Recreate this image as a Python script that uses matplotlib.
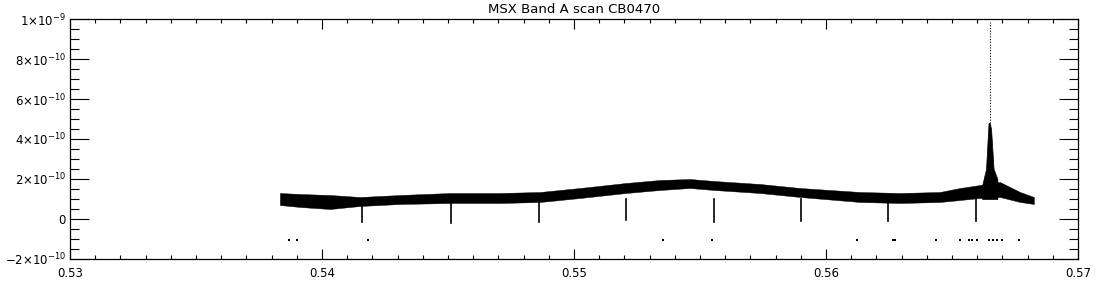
import numpy as np
import matplotlib
matplotlib.use('Agg')
import matplotlib.pyplot as plt
from matplotlib.ticker import MultipleLocator, FixedLocator

plt.rcParams['mathtext.fontset'] = 'dejavusans'

# envelope of the noisy scan (wavelength, upper, lower)
wave = [0.53833, 0.53913, 0.54032, 0.54151, 0.54310, 0.54508, 0.54706, 0.54865,
        0.55024, 0.55206, 0.55341, 0.55460, 0.55556, 0.55738, 0.55897, 0.56135,
        0.56294, 0.56452, 0.56532, 0.56611, 0.56690, 0.56770, 0.56825]
upper = [1.30, 1.25, 1.20, 1.10, 1.20, 1.30, 1.30, 1.35, 1.55, 1.80, 1.95, 2.00,
         1.90, 1.75, 1.55, 1.35, 1.30, 1.35, 1.55, 1.70, 1.85, 1.35, 1.10]
lower = [0.70, 0.60, 0.50, 0.65, 0.75, 0.80, 0.80, 0.85, 1.05, 1.30, 1.45, 1.55,
         1.45, 1.30, 1.10, 0.85, 0.80, 0.85, 0.95, 1.05, 1.10, 0.85, 0.75]

# narrow dips (position, bottom value)
dip_x = [0.54159, 0.54512, 0.54861, 0.55206, 0.55556, 0.55901, 0.56246, 0.56595]
dip_bottom = [-0.15, -0.20, -0.15, -0.05, -0.15, -0.10, -0.10, -0.12]

# emission spike
spike_x = [0.56620, 0.56635, 0.56645, 0.56650, 0.56655, 0.56665, 0.56680]
spike_y = [1.70, 2.50, 4.80, 4.80, 4.50, 2.50, 2.00]
peak_x = 0.56650
peak_top = 9.85

# scattered low points
dot_x = [0.53869, 0.53901, 0.54183, 0.55353, 0.55548, 0.56123, 0.56266, 0.56274,
         0.56437, 0.56532, 0.56567, 0.56579, 0.56599, 0.56647, 0.56663, 0.56679,
         0.56698, 0.56766]
dot_y = -1.05

x_ticks = [0.53, 0.54, 0.55, 0.56, 0.57]
x_labels = ['0.53', '0.54', '0.55', '0.56', '0.57']
y_ticks = [-2e-10, 0, 2e-10, 4e-10, 6e-10, 8e-10, 1e-9]
y_labels = [r'$-2{\times}10^{-10}$', '0', r'$2{\times}10^{-10}$', r'$4{\times}10^{-10}$',
            r'$6{\times}10^{-10}$', r'$8{\times}10^{-10}$', r'$1{\times}10^{-9}$']

scale = 1e-10

fig = plt.figure(figsize=(11, 3), dpi=100)
ax = fig.add_axes([70 / 1100, 41 / 300, 1008 / 1100, 240 / 300])

ax.fill_between(wave, np.array(lower) * scale, np.array(upper) * scale,
                color='black', lw=0.3)
for x, b in zip(dip_x, dip_bottom):
    ax.plot([x, x], [1.0 * scale, b * scale], color='black', lw=1.2)
ax.fill_between(spike_x, np.array(spike_y) * scale, 1.0 * scale, color='black', lw=0.5)
ax.plot([peak_x, peak_x], [4.8 * scale, peak_top * scale], color='black',
        lw=0.8, ls=(0, (1, 1.5)))
ax.scatter(dot_x, [dot_y * scale] * len(dot_x), s=0.6, color='black', marker='s', lw=0)

ax.set_xlim(0.53, 0.57)
ax.set_ylim(-2e-10, 1e-9)
ax.set_title('MSX Band A scan CB0470', fontsize=9.5, pad=4)

ax.xaxis.set_major_locator(FixedLocator(x_ticks))
ax.xaxis.set_minor_locator(MultipleLocator(0.001))
ax.set_xticklabels(x_labels)
ax.yaxis.set_major_locator(FixedLocator(y_ticks))
ax.yaxis.set_minor_locator(MultipleLocator(0.5e-10))
ax.set_yticklabels(y_labels)

ax.tick_params(axis='both', which='both', direction='in', top=True, right=True,
               labelsize=8.5, width=0.8, colors='black')
ax.tick_params(axis='x', which='major', length=7, pad=6)
ax.tick_params(axis='x', which='minor', length=3)
ax.tick_params(axis='y', which='major', length=13.5, pad=3)
ax.tick_params(axis='y', which='minor', length=6.5)
for s in ax.spines.values():
    s.set_linewidth(0.9)

fig.savefig('out.png', dpi=100)
